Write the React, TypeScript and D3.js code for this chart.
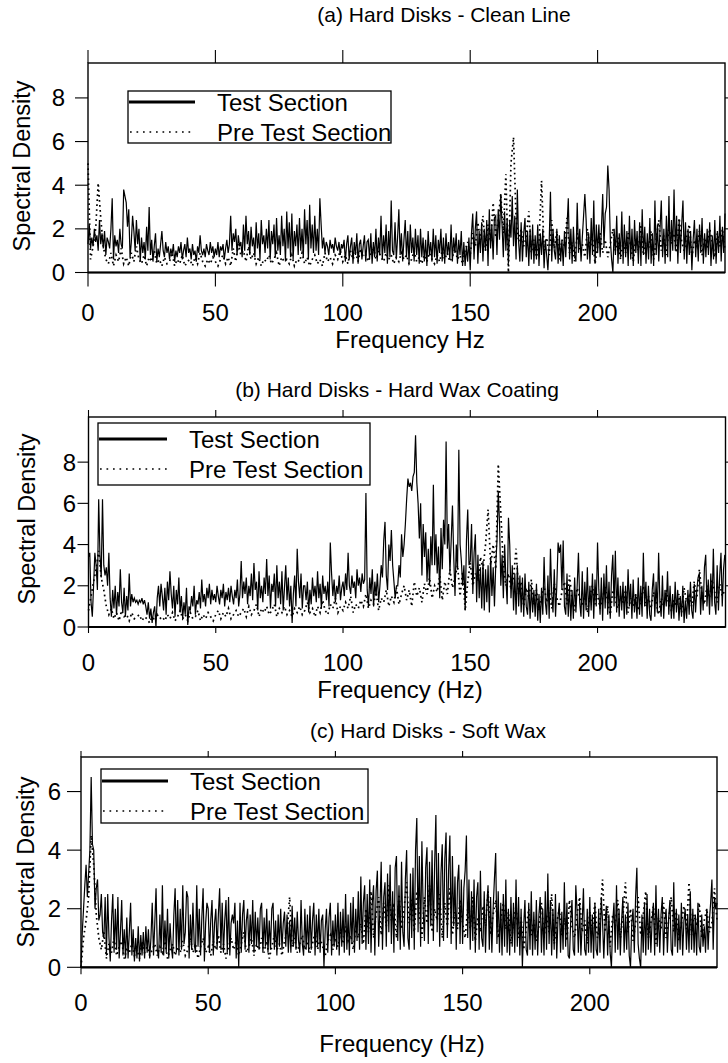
import React from "react";
import * as d3 from "d3";

// ---------- data ----------
const X_TICKS = [0, 50, 100, 150, 200];
const Y_TICKS_A = [0, 2, 4, 6, 8];
const Y_TICKS_B = [0, 2, 4, 6, 8];
const Y_TICKS_C = [0, 2, 4, 6];
const FREQ_MAX = 250;
const SERIES_NAMES = ["Test Section", "Pre Test Section"];
const TITLES = ["(a) Hard Disks - Clean Line", "(b) Hard Disks - Hard Wax Coating", "(c) Hard Disks - Soft Wax"];
const X_LABELS = ["Frequency Hz", "Frequency (Hz)", "Frequency (Hz)"];
const Y_LABEL = "Spectral Density";

// (a) Test Section, 0.5 Hz steps
const A_TEST = [
  1.3, 2.2, 1.1, 1.6, 1.2, 2.0, 1.4, 1.7, 1.0, 2.4, 1.3, 1.8, 1.1, 1.9, 0.8, 1.6, 1.4, 1.1, 2.0, 3.4,
  0.6, 1.7, 1.2, 1.5, 0.9, 2.0, 1.3, 1.1, 3.8, 3.5, 3.2, 2.1, 2.9, 0.7, 1.4, 2.6, 1.9, 1.0, 2.4, 1.3,
  2.0, 0.5, 1.6, 0.9, 1.4, 0.6, 2.1, 1.0, 3.0, 0.8, 1.5, 0.5, 1.2, 1.8, 0.5, 1.1, 0.7, 1.3, 1.9, 1.0,
  0.7, 1.4, 0.9, 1.2, 0.6, 1.1, 0.8, 1.3, 0.5, 1.0, 0.7, 1.2, 0.9, 1.4, 0.6, 1.0, 1.3, 0.7, 1.6, 0.9,
  1.1, 0.6, 1.3, 0.8, 1.0, 0.5, 1.2, 0.9, 1.7, 1.0, 0.8, 1.1, 0.7, 1.3, 1.0, 0.8, 1.4, 0.9, 1.2, 0.7,
  1.1, 0.8, 1.4, 0.7, 1.2, 1.0, 1.3, 0.6, 1.1, 1.5, 0.9, 1.3, 2.6, 1.0, 1.8, 1.4, 2.0, 0.8, 1.7, 1.2,
  1.4, 0.7, 2.2, 1.0, 2.6, 1.3, 1.9, 0.8, 2.1, 1.2, 1.6, 0.7, 2.3, 1.1, 1.8, 0.6, 2.4, 1.3, 1.7, 0.9,
  2.0, 1.1, 2.4, 0.6, 1.9, 1.3, 2.2, 0.7, 2.5, 1.0, 1.7, 0.8, 2.6, 1.2, 2.0, 0.5, 2.8, 1.1, 2.3, 0.7,
  2.7, 0.6, 1.9, 1.2, 2.2, 0.8, 2.5, 1.0, 2.0, 0.7, 2.9, 1.3, 2.4, 0.6, 3.1, 1.1, 2.2, 0.9, 2.6, 1.0,
  2.0, 0.8, 3.4, 2.2, 1.1, 1.6, 0.9, 1.4, 1.2, 0.8, 1.5, 1.1, 1.3, 0.9, 1.6, 1.2, 1.0, 1.4, 0.8, 1.3,
  1.1, 1.5, 0.5, 1.3, 1.7, 0.6, 1.2, 1.6, 0.4, 1.4, 0.8, 1.8, 0.4, 1.3, 1.5, 0.6, 1.2, 1.7, 0.5, 1.4,
  1.5, 0.6, 1.8, 0.4, 1.4, 0.7, 2.0, 0.5, 1.6, 0.8, 2.6, 0.6, 1.7, 0.9, 2.2, 0.4, 1.9, 0.7, 3.3, 1.0,
  0.8, 2.3, 0.6, 1.6, 2.9, 0.8, 1.8, 0.5, 1.5, 2.4, 0.7, 1.9, 0.4, 2.2, 0.9, 1.6, 0.5, 2.0, 0.8, 1.7,
  0.4, 2.0, 0.7, 1.6, 0.5, 1.5, 0.3, 1.9, 0.8, 1.4, 0.5, 2.0, 0.7, 1.7, 0.4, 1.5, 0.9, 2.0, 0.5, 1.6,
  0.4, 1.8, 0.8, 1.4, 0.6, 2.2, 0.5, 1.6, 0.9, 1.8, 0.4, 1.5, 0.8, 1.9, 0.3, 1.4, 0.3, 1.2, 0.5, 1.6,
  0.1, 1.8, 2.7, 0.6, 2.0, 2.8, 0.4, 1.9, 0.9, 2.3, 0.5, 2.0, 1.0, 2.4, 0.3, 2.9, 1.1, 2.2, 0.6, 2.5,
  2.6, 0.8, 2.9, 1.5, 3.6, 2.2, 0.7, 2.8, 1.0, 2.5, 0.4, 2.4, 1.6, 3.5, 1.2, 2.6, 0.6, 3.8, 1.4, 0.5,
  2.3, 0.5, 1.8, 2.5, 0.7, 1.9, 0.3, 2.0, 0.6, 2.2, 0.4, 1.7, 0.6, 2.2, 0.3, 1.8, 0.8, 2.0, 0.2, 1.5,
  0.8, 0.1, 1.4, 3.7, 0.5, 2.0, 1.0, 0.6, 2.0, 0.4, 1.7, 0.5, 1.5, 0.3, 1.9, 0.7, 2.1, 3.4, 0.6, 2.0,
  0.4, 2.1, 0.8, 0.5, 3.2, 0.9, 2.0, 0.5, 1.6, 2.6, 3.6, 2.4, 0.6, 1.8, 0.4, 2.5, 0.8, 3.3, 0.4, 2.2,
  0.9, 2.2, 0.7, 2.0, 3.6, 1.2, 2.7, 3.0, 4.9, 3.8, 1.5, 0.6, 0.0, 2.0, 0.8, 2.6, 0.4, 1.8, 0.7, 2.8,
  0.4, 2.2, 0.7, 1.9, 0.3, 2.6, 0.6, 2.0, 0.3, 2.4, 0.9, 1.9, 0.4, 2.3, 0.3, 2.9, 0.8, 2.1, 0.4, 1.8,
  0.6, 2.5, 0.4, 1.8, 0.3, 3.3, 0.8, 2.2, 0.5, 2.0, 3.3, 0.7, 2.0, 0.4, 2.6, 0.7, 3.5, 0.5, 2.4, 1.0,
  3.8, 1.0, 2.6, 0.4, 2.4, 0.9, 2.2, 3.3, 0.6, 2.3, 0.4, 2.0, 0.8, 1.9, 0.1, 1.5, 2.4, 0.7, 2.0, 0.5,
  2.2, 0.9, 2.5, 0.4, 1.8, 0.7, 2.0, 0.8, 2.3, 0.3, 1.7, 0.6, 2.4, 0.4, 1.9, 0.9, 2.6, 0.5, 2.1, 0.9,
  2.7,
];

// (a) Pre Test Section, 1 Hz steps
const A_PRE = [
  5.0, 0.6, 1.2, 2.0, 4.1, 2.5, 1.2, 0.6, 0.4, 0.9,
  0.3, 0.8, 0.5, 1.1, 0.4, 0.7, 0.3, 0.9, 0.5, 1.2,
  0.6, 0.4, 0.8, 0.3, 0.7, 0.5, 1.0, 0.4, 0.6, 0.3,
  0.7, 0.4, 0.5, 0.9, 0.3, 0.6, 0.4, 0.8, 0.3, 0.5,
  0.6, 0.3, 0.7, 0.4, 0.9, 0.5, 0.3, 0.6, 0.4, 0.7,
  0.5, 0.3, 0.6, 0.8, 0.4, 0.7, 0.3, 1.1, 0.5, 1.3,
  0.8, 1.0, 0.5, 1.2, 0.6, 0.9, 0.4, 0.7, 0.3, 0.6,
  0.5, 0.8, 0.4, 0.6, 0.9, 0.3, 0.7, 0.5, 0.6, 0.4,
  0.8, 0.3, 0.6, 0.5, 0.9, 0.4, 0.7, 0.3, 0.6, 0.8,
  0.4, 0.6, 0.3, 0.9, 0.5, 0.7, 0.4, 0.8, 0.6, 1.0,
  0.5, 0.8, 0.4, 1.0, 0.6, 0.9, 0.5, 1.1, 0.7, 0.8,
  0.5, 0.9, 1.2, 0.6, 1.0, 0.7, 0.5, 0.9, 0.6, 0.8,
  0.4, 0.7, 0.5, 0.9, 0.6, 0.8, 0.4, 0.6, 1.0, 0.5,
  0.7, 0.4, 0.8, 0.5, 0.9, 0.6, 0.4, 0.8, 0.5, 1.0,
  0.6, 0.9, 0.5, 0.7, 1.1, 0.6, 0.8, 0.4, 1.0, 1.4,
  0.8, 1.8, 1.2, 2.3, 1.5, 2.6, 1.0, 2.2, 1.4, 3.2,
  1.6, 2.4, 3.6, 1.8, 4.5, 0.0, 5.0, 6.2, 2.5, 1.4,
  2.0, 1.2, 1.6, 2.8, 0.9, 1.5, 0.7, 1.3, 4.2, 1.0,
  1.6, 0.8, 2.4, 1.1, 1.9, 0.6, 1.5, 1.2, 2.5, 0.9,
  1.4, 0.5, 1.8, 1.0, 1.3, 0.7, 2.0, 1.1, 1.6, 0.4,
  1.2, 1.8, 0.9, 1.5, 0.7, 1.3, 2.0, 1.0, 1.6, 0.6,
  1.4, 0.9, 1.8, 1.2, 0.5, 1.6, 1.0, 2.2, 0.8, 1.4,
  1.1, 1.9, 0.6, 1.5, 2.4, 1.0, 1.7, 0.8, 2.1, 1.3,
  1.8, 0.9, 2.5, 1.4, 1.0, 1.7, 2.2, 0.7, 1.5, 1.2,
  1.9, 0.8, 1.6, 1.1, 2.0, 1.4, 0.7, 1.8, 1.2, 2.0,
  1.0,
];

// (b) Test Section, 0.5 Hz steps
const B_TEST = [
  3.4, 3.6, 1.2, 0.5, 2.0, 3.6, 3.0, 1.8, 6.2, 3.5, 2.4, 6.2, 3.0, 2.5, 2.9, 2.0, 3.6, 1.4, 0.5, 1.8,
  0.9, 2.0, 0.6, 1.7, 1.0, 2.8, 1.2, 0.7, 1.9, 0.5, 1.5, 0.8, 2.6, 1.0, 1.6, 1.2, 1.4, 1.2, 1.3, 1.1,
  1.3, 1.2, 1.4, 1.1, 1.3, 1.0, 0.6, 1.2, 0.4, 0.9, 0.2, 0.7, 1.0, 0.0, 1.4, 2.0, 1.0, 2.1, 1.5, 0.8,
  1.9, 0.6, 2.2, 1.3, 2.7, 1.6, 0.9, 2.0, 0.5, 1.8, 1.1, 2.4, 0.7, 1.5, 0.4, 1.2, 0.6, 1.9, 0.1, 1.0,
  0.8, 1.5, 1.0, 2.0, 0.6, 1.3, 1.1, 1.7, 0.9, 2.3, 1.2, 1.6, 1.0, 1.9, 1.4, 2.1, 1.1, 1.8, 1.3, 1.6,
  1.2, 2.0, 1.5, 1.1, 1.8, 1.4, 2.1, 1.0, 1.7, 1.3, 1.9, 1.2, 2.0, 1.5, 1.1, 1.8, 1.4, 2.3, 1.0, 1.6,
  3.2, 1.4, 2.2, 1.6, 2.4, 1.1, 2.0, 1.5, 2.6, 1.3, 3.1, 1.8, 2.2, 0.8, 2.7, 1.4, 2.0, 1.2, 2.4, 1.6,
  3.3, 1.5, 2.5, 0.9, 2.1, 1.7, 2.6, 1.0, 3.0, 1.4, 2.2, 1.1, 2.7, 0.8, 1.9, 3.0, 1.3, 2.4, 1.0, 2.0,
  0.2, 1.6, 2.5, 1.0, 3.8, 2.2, 1.4, 2.6, 0.9, 2.0, 2.0, 1.3, 2.2, 0.7, 1.8, 1.1, 2.4, 1.5, 2.0, 1.2,
  2.7, 1.4, 2.1, 0.9, 2.5, 1.6, 2.0, 1.3, 2.2, 1.0, 4.1, 2.6, 1.5, 2.3, 1.2, 2.0, 1.6, 2.5, 1.3, 1.9,
  2.2, 1.5, 2.6, 1.8, 3.6, 2.0, 1.6, 2.5, 1.9, 2.2, 1.4, 2.8, 2.0, 2.4, 1.7, 2.6, 2.1, 2.3, 6.5, 1.8,
  1.0, 2.4, 1.6, 2.8, 1.0, 2.2, 1.5, 2.6, 1.2, 2.0, 3.0, 2.4, 4.2, 5.1, 2.5, 1.8, 4.0, 3.2, 4.7, 3.0,
  2.2, 1.4, 2.0, 2.0, 3.0, 2.4, 4.5, 3.4, 4.0, 5.0, 6.2, 7.2, 6.8, 7.0, 6.6, 7.3, 7.5, 9.3, 7.0, 6.0,
  4.3, 6.0, 2.5, 5.0, 3.4, 4.6, 2.2, 3.8, 2.0, 4.4, 3.0, 6.9, 3.0, 4.5, 2.6, 3.9, 1.4, 4.8, 2.8, 5.2,
  4.0, 9.0, 3.8, 5.0, 2.6, 4.2, 5.9, 3.4, 1.5, 4.0, 2.8, 8.6, 4.0, 3.2, 2.0, 3.0, 0.8, 4.2, 5.7, 3.0,
  3.2, 5.0, 1.6, 3.6, 4.5, 1.2, 3.5, 1.4, 2.9, 0.9, 3.2, 0.8, 2.8, 1.2, 3.0, 0.7, 3.4, 1.5, 2.9, 1.0,
  3.0, 4.2, 6.6, 5.0, 2.0, 3.5, 1.4, 4.0, 2.3, 1.1, 5.3, 4.0, 1.4, 3.0, 0.8, 2.6, 0.6, 3.0, 1.0, 2.5,
  0.7, 2.4, 0.5, 2.6, 1.0, 0.6, 2.2, 0.4, 2.0, 0.7, 1.8, 0.5, 2.1, 0.3, 1.6, 0.2, 1.9, 0.6, 3.4, 1.2,
  0.6, 2.5, 0.4, 3.8, 1.6, 0.7, 2.8, 0.5, 2.0, 4.1, 3.6, 4.0, 1.8, 4.2, 1.0, 0.6, 2.6, 0.5, 2.0, 0.3,
  1.8, 0.4, 2.4, 0.7, 2.0, 3.6, 1.2, 0.5, 2.7, 0.4, 2.2, 0.8, 2.9, 0.5, 2.0, 0.8, 2.6, 0.4, 2.3, 1.0,
  4.1, 1.8, 0.6, 2.4, 0.3, 2.6, 0.9, 3.0, 0.6, 2.2, 0.4, 2.5, 3.5, 1.0, 3.7, 0.7, 2.4, 0.5, 2.0, 0.8,
  2.2, 0.4, 2.0, 0.6, 2.8, 1.0, 2.1, 0.4, 2.3, 0.7, 1.6, 0.4, 2.4, 0.6, 2.0, 0.5, 3.6, 1.0, 2.2, 0.4,
  2.0, 0.6, 0.3, 1.8, 2.6, 0.5, 2.2, 0.7, 3.6, 1.2, 0.5, 2.5, 0.4, 1.8, 1.0, 2.7, 0.6, 2.0, 0.4, 1.6,
  0.4, 2.2, 0.7, 1.8, 0.3, 1.5, 0.5, 2.0, 0.2, 1.3, 0.4, 1.8, 0.6, 2.2, 0.8, 0.4, 2.1, 0.7, 1.8, 2.4,
  2.6, 0.6, 2.0, 0.8, 2.9, 3.5, 1.0, 2.3, 0.6, 2.6, 1.0, 3.8, 1.2, 0.6, 3.0, 0.8, 2.5, 3.6, 1.0, 2.8,
  3.5,
];

// (b) Pre Test Section, 1 Hz steps
const B_PRE = [
  0.8, 1.5, 2.2, 2.8, 3.7, 2.4, 1.8, 1.0, 0.6, 0.9,
  0.4, 0.7, 0.3, 0.8, 0.5, 0.6, 0.3, 0.7, 0.4, 0.5,
  0.6, 0.3, 0.5, 0.4, 0.2, 0.5, 0.3, 0.6, 0.4, 0.5,
  0.3, 0.6, 0.4, 0.7, 0.3, 0.5, 0.8, 0.4, 0.6, 0.3,
  0.7, 0.4, 0.5, 0.8, 0.3, 0.6, 0.4, 0.7, 0.5, 0.3,
  0.6, 0.8, 0.4, 0.7, 0.5, 0.9, 0.4, 0.6, 0.8, 0.5,
  0.7, 0.9, 0.5, 1.0, 0.6, 0.8, 1.1, 0.5, 0.9, 0.7,
  1.0, 0.6, 0.8, 1.1, 0.5, 0.9, 0.7, 1.0, 0.6, 0.8,
  0.5, 0.9, 0.7, 1.0, 0.6, 0.8, 1.2, 0.7, 0.9, 0.5,
  1.0, 0.7, 1.3, 0.8, 0.6, 1.1, 0.9, 1.4, 0.7, 1.0,
  0.8, 1.2, 0.9, 1.5, 0.7, 1.1, 0.9, 1.3, 1.0, 1.6,
  0.9, 1.3, 1.1, 1.7, 0.8, 1.4, 1.2, 1.8, 1.0, 1.5,
  1.2, 1.9, 1.1, 1.6, 2.0, 1.3, 1.8, 1.0, 2.2, 1.5,
  1.9, 1.2, 2.1, 1.6, 2.4, 1.4, 2.0, 1.7, 2.5, 1.3,
  2.2, 1.6, 2.8, 1.9, 2.4, 3.0, 1.5, 2.7, 0.8, 2.2,
  3.1, 2.0, 2.6, 2.2, 3.4, 2.8, 4.0, 5.7, 3.0, 4.0,
  2.8, 7.9, 5.5, 3.0, 2.0, 2.6, 1.8, 2.4, 3.8, 1.6,
  2.2, 1.0, 1.9, 1.4, 2.3, 1.1, 1.8, 0.8, 1.5, 2.0,
  1.2, 1.8, 0.9, 2.1, 1.4, 1.0, 1.7, 2.2, 1.1, 2.5,
  1.3, 0.8, 1.9, 1.4, 1.0, 1.6, 0.7, 1.5, 2.0, 1.1,
  1.6, 0.9, 1.4, 2.0, 1.2, 0.6, 1.8, 1.3, 0.9, 1.5,
  1.1, 1.8, 0.7, 1.4, 1.0, 1.6, 0.8, 1.3, 2.0, 1.0,
  1.5, 0.9, 1.7, 1.2, 0.6, 1.4, 1.0, 1.8, 1.1, 0.8,
  1.3, 1.0, 1.6, 0.7, 1.9, 1.2, 1.5, 1.0, 2.2, 1.4,
  2.8, 1.6, 1.1, 2.0, 1.4, 2.3, 1.7, 1.2, 2.1, 1.5,
  1.8,
];

// (c) Test Section, 0.5 Hz steps
const C_TEST = [
  0.0, 1.2, 2.0, 2.8, 3.5, 2.4, 3.2, 4.0, 6.5, 4.2, 4.0, 2.0, 2.7, 3.0, 1.6, 1.8, 2.5, 1.2, 1.0, 2.4,
  0.4, 2.5, 1.0, 0.2, 1.6, 2.5, 0.5, 2.0, 0.6, 2.4, 0.3, 1.2, 2.3, 0.4, 1.3, 0.3, 1.7, 0.3, 1.2, 2.2,
  0.4, 1.3, 0.2, 1.0, 0.3, 1.4, 0.2, 1.1, 0.4, 1.2, 0.3, 1.4, 0.5, 1.3, 0.3, 1.0, 2.2, 0.4, 1.5, 2.7,
  0.6, 0.3, 1.8, 0.5, 2.8, 0.4, 1.6, 0.5, 2.0, 0.3, 1.5, 0.7, 0.3, 1.8, 2.7, 0.5, 2.3, 0.4, 2.0, 0.6,
  2.8, 0.8, 1.2, 2.6, 2.4, 0.3, 1.8, 0.6, 2.2, 0.8, 0.5, 2.8, 0.7, 2.0, 0.4, 1.7, 2.7, 0.2, 1.5, 2.2,
  2.0, 0.5, 1.6, 2.3, 0.4, 1.5, 2.0, 0.6, 1.8, 2.7, 0.6, 2.2, 0.5, 1.6, 2.3, 0.5, 2.4, 0.4, 1.5, 1.8,
  1.5, 2.2, 0.3, 1.6, 0.0, 2.2, 0.5, 1.8, 2.3, 0.6, 1.6, 2.0, 0.5, 1.8, 0.8, 2.3, 0.5, 1.9, 0.7, 1.7,
  0.6, 2.0, 2.2, 0.5, 1.7, 0.7, 2.0, 0.5, 1.6, 0.6, 2.0, 2.2, 0.6, 1.6, 0.4, 1.8, 0.7, 2.0, 0.6, 1.5,
  1.9, 0.7, 1.8, 0.5, 1.6, 0.5, 2.1, 0.7, 1.7, 0.6, 1.9, 0.9, 0.5, 2.3, 0.8, 0.4, 2.0, 0.6, 1.8, 0.5,
  2.1, 0.6, 1.6, 2.2, 0.4, 1.8, 0.7, 2.0, 0.5, 1.6, 1.8, 0.0, 1.3, 2.0, 0.5, 1.7, 2.2, 0.4, 1.6, 0.7,
  1.8, 0.6, 2.2, 0.4, 1.9, 0.7, 2.0, 0.5, 2.5, 0.6, 1.8, 0.4, 2.2, 0.8, 2.4, 0.5, 2.0, 0.9, 2.6, 0.6,
  3.1, 0.8, 2.2, 2.8, 0.6, 2.5, 0.8, 3.0, 0.5, 2.2, 2.8, 0.4, 2.6, 3.3, 0.7, 2.0, 3.6, 0.6, 2.4, 2.9,
  0.7, 3.2, 1.2, 3.5, 0.8, 2.6, 0.5, 3.4, 3.8, 0.9, 2.8, 0.6, 3.6, 1.2, 0.7, 3.0, 4.0, 1.0, 0.6, 3.2,
  1.0, 3.4, 0.6, 4.0, 5.1, 1.2, 3.8, 0.7, 4.3, 2.0, 0.9, 3.4, 4.1, 0.8, 3.6, 1.4, 4.0, 0.9, 3.5, 5.2,
  1.2, 3.9, 0.7, 3.2, 4.2, 0.9, 3.7, 4.6, 1.0, 3.3, 4.5, 0.8, 3.8, 1.4, 3.1, 0.6, 2.9, 3.5, 0.8, 3.0,
  0.8, 2.7, 3.3, 4.5, 1.0, 3.0, 0.6, 2.6, 0.9, 3.0, 0.5, 2.4, 2.9, 0.6, 3.3, 1.0, 0.7, 2.6, 0.5, 2.1,
  2.8, 0.6, 2.4, 0.5, 2.0, 3.0, 3.9, 0.8, 2.6, 0.5, 2.2, 0.4, 2.5, 0.7, 3.0, 0.5, 2.0, 0.4, 2.4, 0.7,
  2.2, 0.5, 3.0, 0.7, 2.4, 0.4, 2.0, 0.0, 1.4, 2.3, 0.6, 0.4, 2.2, 0.6, 2.6, 0.4, 1.9, 0.6, 2.3, 0.4,
  1.8, 2.4, 0.5, 2.0, 0.4, 2.6, 0.6, 3.2, 0.8, 2.3, 0.4, 2.0, 0.6, 2.5, 0.3, 1.7, 2.2, 0.5, 1.9, 0.6,
  2.9, 0.7, 2.2, 0.4, 0.3, 1.6, 2.3, 0.6, 0.4, 2.8, 1.9, 0.5, 2.2, 0.4, 1.5, 2.7, 0.6, 0.4, 2.0, 0.5,
  2.4, 0.5, 1.8, 0.3, 2.2, 0.6, 0.4, 2.0, 0.5, 2.4, 1.6, 0.3, 1.5, 2.1, 0.4, 1.8, 0.5, 0.0, 1.5, 2.2,
  0.5, 2.8, 0.6, 2.0, 0.4, 1.6, 2.4, 0.5, 1.8, 0.6, 2.2, 0.4, 0.0, 1.5, 2.0, 0.5, 2.4, 3.4, 0.8, 0.3,
  0.0, 1.8, 0.5, 2.2, 0.4, 2.5, 0.6, 2.0, 0.5, 1.6, 2.2, 0.4, 2.8, 0.7, 2.0, 0.5, 1.8, 2.4, 0.4, 1.6,
  2.0, 0.5, 1.7, 2.3, 0.6, 0.4, 2.9, 0.7, 2.0, 0.5, 1.8, 0.6, 2.2, 0.4, 1.6, 2.0, 0.6, 1.8, 0.5, 2.6,
  0.6, 2.0, 0.5, 1.8, 0.4, 2.2, 0.7, 0.5, 1.8, 0.7, 1.4, 0.5, 2.0, 0.6, 1.6, 2.2, 3.0, 0.6, 2.4, 2.0,
  2.2,
];

// (c) Pre Test Section, 1 Hz steps
const C_PRE = [
  0.0, 1.0, 1.6, 2.4, 4.5, 3.5, 1.8, 1.0, 0.6, 1.2,
  0.3, 0.8, 0.5, 1.0, 0.4, 0.7, 0.9, 0.3, 0.6, 0.5,
  0.8, 0.4, 0.6, 0.3, 0.9, 0.5, 0.7, 0.4, 0.6, 0.8,
  0.4, 0.7, 0.5, 0.9, 0.3, 0.6, 0.8, 0.4, 0.7, 0.5,
  0.9, 0.4, 0.6, 1.0, 0.5, 0.8, 0.3, 0.7, 1.0, 0.5,
  0.7, 0.4, 0.9, 0.6, 1.1, 0.5, 0.8, 0.3, 0.7, 1.0,
  0.6, 0.9, 0.4, 0.8, 1.2, 0.5, 0.7, 1.0, 0.4, 0.8,
  0.6, 1.0, 0.5, 0.9, 0.3, 0.7, 1.1, 0.6, 0.8, 0.4,
  0.9, 1.2, 2.4, 0.7, 1.0, 0.5, 0.8, 1.1, 0.6, 0.9,
  0.5, 0.8, 1.2, 0.6, 1.0, 0.7, 0.4, 0.9, 1.1, 0.6,
  1.0, 0.7, 1.2, 0.8, 1.4, 0.9, 1.1, 0.6, 1.3, 1.0,
  1.5, 0.8, 2.0, 1.2, 2.6, 1.0, 1.8, 2.4, 1.1, 2.2,
  1.4, 2.8, 1.6, 2.2, 1.0, 2.5, 1.3, 2.0, 2.9, 1.5,
  2.3, 1.2, 2.6, 1.8, 1.0, 2.4, 1.5, 2.8, 1.2, 2.0,
  1.6, 2.5, 1.0, 2.2, 1.4, 2.7, 1.1, 1.9, 1.3, 2.3,
  1.5, 1.0, 2.0, 1.3, 2.4, 0.9, 1.7, 1.2, 2.1, 1.4,
  2.6, 1.1, 1.8, 2.3, 1.0, 1.6, 2.2, 1.3, 1.9, 0.8,
  1.5, 2.1, 1.0, 1.7, 0.6, 1.3, 2.0, 1.1, 1.6, 0.9,
  1.4, 2.2, 1.0, 1.8, 1.2, 2.5, 0.8, 1.5, 2.0, 1.1,
  1.7, 0.9, 2.3, 1.4, 1.0, 1.8, 2.4, 1.2, 1.6, 0.8,
  1.9, 1.3, 2.2, 1.0, 1.6, 3.0, 1.2, 2.1, 0.7, 1.8,
  1.4, 2.3, 1.0, 1.7, 2.9, 1.2, 2.0, 0.9, 1.5, 2.4,
  1.1, 1.8, 2.6, 1.0, 1.5, 2.1, 0.8, 1.7, 1.3, 2.2,
  1.0, 1.6, 2.4, 1.2, 1.9, 0.9, 1.5, 2.1, 1.3, 2.9,
  1.1, 1.8, 1.4, 2.2, 1.0, 1.6, 2.0, 1.2, 1.5, 2.7,
  1.6,
];

// ---------- layout ----------
type Layout = {
  left: number; right: number; frameRight: number; top: number; bottom: number; yMax: number; yTicks: number[];
  tickL: number; tickT: number; tickB: number; tickR: number;
  yLabRight: number; xLabBase: number; yTitleX: number; yTitleY: number;
  titleX: number; titleY: number; xTitleX: number; xTitleY: number;
  lg: { x: number; y: number; w: number; h: number; r1: number; r2: number; lineX2: number; textX: number };
};

const LAYOUTS: Layout[] = [
  {
    left: 88, right: 725, frameRight: 725, top: 63, bottom: 272.5, yMax: 9.6, yTicks: Y_TICKS_A,
    tickL: 13, tickT: 13, tickB: 14, tickR: 10,
    yLabRight: 65, xLabBase: 321, yTitleX: 30, yTitleY: 166,
    titleX: 444, titleY: 22, xTitleX: 410, xTitleY: 348,
    lg: { x: 128, y: 91, w: 263, h: 52, r1: 102, r2: 132, lineX2: 195, textX: 217 },
  },
  {
    left: 88.5, right: 724.8, frameRight: 725.5, top: 417, bottom: 627, yMax: 10.19, yTicks: Y_TICKS_B,
    tickL: 11, tickT: 7, tickB: 6, tickR: 10,
    yLabRight: 76, xLabBase: 671, yTitleX: 34.5, yTitleY: 519,
    titleX: 397, titleY: 397, xTitleX: 400, xTitleY: 698,
    lg: { x: 98, y: 423, w: 272, h: 62, r1: 439, r2: 469, lineX2: 167, textX: 189 },
  },
  {
    left: 81, right: 717, frameRight: 717, top: 757, bottom: 967.3, yMax: 7.18, yTicks: Y_TICKS_C,
    tickL: 14, tickT: 6, tickB: 7, tickR: 11,
    yLabRight: 61, xLabBase: 1011, yTitleX: 34, yTitleY: 862,
    titleX: 428, titleY: 738, xTitleX: 402, xTitleY: 1052,
    lg: { x: 101, y: 769, w: 267, h: 54, r1: 781, r2: 811, lineX2: 168, textX: 190 },
  },
];

const SERIES = [
  { test: A_TEST, pre: A_PRE },
  { test: B_TEST, pre: B_PRE },
  { test: C_TEST, pre: C_PRE },
];

const FONT = "'Liberation Sans', Arial, Helvetica, sans-serif";

function Panel({ idx }: { idx: number }) {
  const L = LAYOUTS[idx];
  const { test, pre } = SERIES[idx];
  const x = d3.scaleLinear().domain([0, FREQ_MAX]).range([L.left, L.right]);
  const y = d3.scaleLinear().domain([0, L.yMax]).range([L.bottom, L.top]);
  const mk = (arr: number[]) =>
    d3
      .line<number>()
      .x((_, i) => x((i * FREQ_MAX) / (arr.length - 1)))
      .y((d) => y(d))(arr) || "";

  return (
    <g>
      <text x={L.titleX} y={L.titleY} textAnchor="middle" fontSize={21} fontFamily={FONT}>
        {TITLES[idx]}
      </text>
      {/* data */}
      <path d={mk(test)} fill="none" stroke="#000" strokeWidth={1.2} strokeLinejoin="miter" />
      <path d={mk(pre)} fill="none" stroke="#000" strokeWidth={1.7} strokeDasharray="1.7 3.3" />
      {/* frame */}
      <rect x={L.left} y={L.top} width={L.frameRight - L.left} height={L.bottom - L.top} fill="none" stroke="#000" strokeWidth={1.4} />
      <line x1={L.left} x2={L.frameRight} y1={L.bottom} y2={L.bottom} stroke="#000" strokeWidth={2.2} />
      {/* x ticks */}
      {X_TICKS.map((t) => (
        <g key={"xt" + t}>
          <line x1={x(t)} x2={x(t)} y1={L.bottom} y2={L.bottom + L.tickB} stroke="#000" strokeWidth={1.1} />
          <line x1={x(t)} x2={x(t)} y1={L.top} y2={L.top - L.tickT} stroke="#000" strokeWidth={1.1} />
          <text x={x(t)} y={L.xLabBase} textAnchor="middle" fontSize={24} fontFamily={FONT}>
            {t}
          </text>
        </g>
      ))}
      {/* y ticks */}
      {L.yTicks.map((t) => (
        <g key={"yt" + t}>
          <line x1={L.left - L.tickL} x2={L.left} y1={y(t)} y2={y(t)} stroke="#000" strokeWidth={1.1} />
          {t > 0 && (
            <line x1={L.frameRight} x2={L.frameRight + L.tickR} y1={y(t)} y2={y(t)} stroke="#000" strokeWidth={1.1} />
          )}
          <text x={L.yLabRight} y={y(t) + 8.5} textAnchor="end" fontSize={24} fontFamily={FONT}>
            {t}
          </text>
        </g>
      ))}
      {/* axis titles */}
      <text x={L.xTitleX} y={L.xTitleY} textAnchor="middle" fontSize={24} fontFamily={FONT}>
        {X_LABELS[idx]}
      </text>
      <text
        transform={`translate(${L.yTitleX},${L.yTitleY}) rotate(-90)`}
        textAnchor="middle"
        fontSize={23.5}
        fontFamily={FONT}
      >
        {Y_LABEL}
      </text>
      {/* legend */}
      <rect x={L.lg.x} y={L.lg.y} width={L.lg.w} height={L.lg.h} fill="#fff" stroke="#000" strokeWidth={1.3} />
      <line x1={L.lg.x + 1} x2={L.lg.lineX2} y1={L.lg.r1} y2={L.lg.r1} stroke="#000" strokeWidth={3} />
      <line x1={L.lg.x + 2} x2={L.lg.lineX2} y1={L.lg.r2} y2={L.lg.r2} stroke="#000" strokeWidth={1.7} strokeDasharray="1.7 4.8" />
      <text x={L.lg.textX} y={L.lg.r1 + 8.5} fontSize={24} fontFamily={FONT}>
        {SERIES_NAMES[0]}
      </text>
      <text x={L.lg.textX} y={L.lg.r2 + 8.5} fontSize={24} fontFamily={FONT}>
        {SERIES_NAMES[1]}
      </text>
    </g>
  );
}

export default function App() {
  return (
    <svg
      width={728}
      height={1063}
      viewBox="0 0 728 1063"
      style={{ position: "absolute", left: 0, top: 0, background: "#fff" }}
    >
      <rect x={0} y={0} width={728} height={1063} fill="#fff" />
      {[0, 1, 2].map((i) => (
        <Panel key={i} idx={i} />
      ))}
    </svg>
  );
}
